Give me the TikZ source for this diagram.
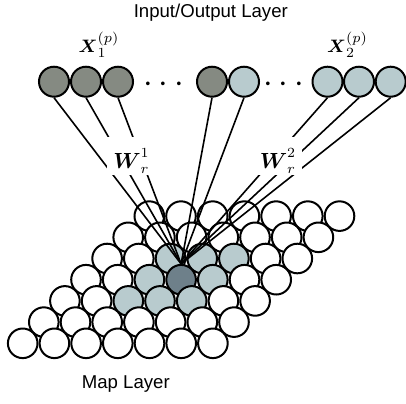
\documentclass[tikz,border=0pt]{standalone}
\usepackage{amsmath,amssymb}
\usepackage{fontspec}
\usepackage{tikz}
\newfontfamily\layerfont{Liberation Sans}
\definecolor{ioDark}{HTML}{858A82}
\definecolor{ioLight}{HTML}{B8CBCE}
\definecolor{mapDark}{HTML}{6E808A}

\begin{document}
\begin{tikzpicture}[x=0.5pt,y=-0.5pt,line width=1pt]
                \tikzset{unit/.style={circle, draw, fill=white, minimum size=14.8pt, inner sep=0pt}}
                \tikzset{io/.style={unit, minimum size=15pt}}
                \tikzset{wlabel/.style={fill=white, anchor=base, inner xsep=3pt, inner ysep=1pt, text height=14.5pt, text depth=2.25pt, font=\fontsize{10.5}{12}\selectfont}}
                \useasboundingbox (0,0) rectangle (406,403);
                % map layer, back rows first
                \foreach \j in {6,5,...,0} {
                    \foreach \i in {0,...,6} {
                        \pgfmathtruncatemacro\near{(abs(\i-3)<=1) && (abs(\j-3)<=1)}
                        \pgfmathtruncatemacro\ctr{(\i==3) && (\j==3)}
                        \ifnum\ctr=1 \def\fillc{mapDark}\else\ifnum\near=1 \def\fillc{ioLight}\else\def\fillc{white}\fi\fi
                        \node[unit, fill=\fillc] (m\i\j) at ({22.7+31.7*\i+21.1*\j},{343.3-21.2*\j}) {};
                    }
                }
                % input/output layer
                \node[io, fill=ioDark] (t1) at (54,81.7) {};
                \node[io, fill=ioDark] (t2) at (86,81.7) {};
                \node[io, fill=ioDark] (t3) at (118,81.7) {};
                \node[io, fill=ioDark] (t4) at (212,81.7) {};
                \node[io, fill=ioLight] (t5) at (244,81.7) {};
                \node[io, fill=ioLight] (t6) at (327.5,81.7) {};
                \node[io, fill=ioLight] (t7) at (359,81.7) {};
                \node[io, fill=ioLight] (t8) at (390.7,81.7) {};
                \node[font=\fontsize{17}{20}\selectfont] (dotsA) at (166.5,85) {$\cdots$};
                \node[font=\fontsize{17}{20}\selectfont] (dotsB) at (286.5,85) {$\cdots$};
                \foreach \n in {1,...,8}
                    \draw[line width=0.8pt] (t\n.south) -- (m33.north);
                \node[wlabel] (w1) at (131.5,168) {$\boldsymbol{W}_r^1$};
                \node[wlabel] (w2) at (278,168) {$\boldsymbol{W}_r^2$};
                \node[anchor=base, font=\fontsize{9.5}{11}\selectfont] (x1) at (99,52) {$\boldsymbol{X}_1^{(p)}$};
                \node[anchor=base, font=\fontsize{9.5}{11}\selectfont] (x2) at (347.5,52) {$\boldsymbol{X}_2^{(p)}$};
                \node[font=\layerfont\fontsize{9.3}{11}\selectfont] (iolayer) at (210.8,12.5) {Input/Output Layer};
                \node[font=\layerfont\fontsize{9.3}{11}\selectfont] (maplayer) at (125.8,384) {Map Layer};
            \end{tikzpicture}
\end{document}
